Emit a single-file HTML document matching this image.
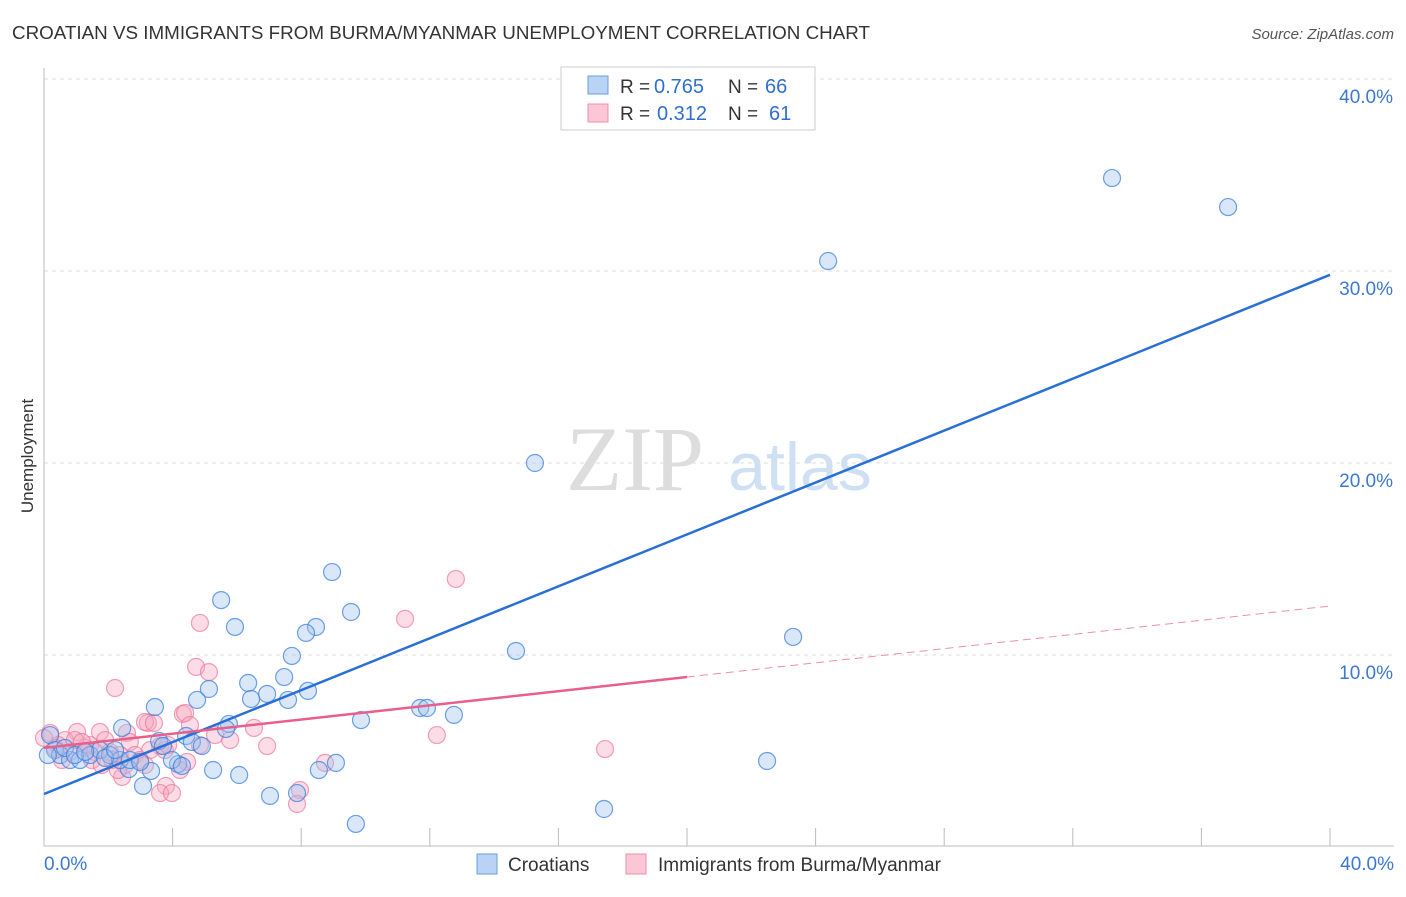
<!DOCTYPE html>
<html><head><meta charset="utf-8"><style>
body{margin:0;background:#fff;font-family:"Liberation Sans",sans-serif}
</style></head><body>
<svg id="chart" width="1406" height="892" viewBox="0 0 1406 892" xmlns="http://www.w3.org/2000/svg" font-family="Liberation Sans, sans-serif">
<text x="12" y="39" font-size="18" fill="#333" textLength="858" lengthAdjust="spacingAndGlyphs">CROATIAN VS IMMIGRANTS FROM BURMA/MYANMAR UNEMPLOYMENT CORRELATION CHART</text>
<text x="1394" y="39" font-size="15" fill="#555" text-anchor="end" font-style="italic">Source: ZipAtlas.com</text>
<text transform="translate(33,456) rotate(-90)" font-size="17" fill="#333" text-anchor="middle">Unemployment</text>
<g>
<text x="635" y="490" font-size="92" fill="#ddd" font-family="Liberation Serif, serif" text-anchor="middle">ZIP</text>
<text x="800" y="490" font-size="68" fill="#cfe0f5" text-anchor="middle">atlas</text>
</g>
<g id="grid"></g><g id="axes"></g><g id="pts"></g><g id="lines"></g>
<g>
<rect x="561" y="67" width="254" height="63" fill="#fff" stroke="#ccc"/>
<rect x="588" y="76" width="20" height="18" fill="#b9d3f5" stroke="#6a9de0"/>
<rect x="588" y="104" width="20" height="18" fill="#fbc7d6" stroke="#ee8fab"/>
<text x="620" y="93" font-size="19" fill="#333">R =</text>
<text x="654" y="93" font-size="20" fill="#2f6fd0">0.765</text>
<text x="728" y="93" font-size="19" fill="#333">N =</text>
<text x="765" y="93" font-size="20" fill="#2f6fd0">66</text>
<text x="620" y="120" font-size="19" fill="#333">R =</text>
<text x="657" y="120" font-size="20" fill="#2f6fd0">0.312</text>
<text x="728" y="120" font-size="19" fill="#333">N =</text>
<text x="769" y="120" font-size="20" fill="#2f6fd0">61</text>
</g>
<g>
<rect x="477" y="854" width="20" height="20" fill="#b9d3f5" stroke="#6a9de0"/>
<text x="508" y="871" font-size="19" fill="#333">Croatians</text>
<rect x="626" y="854" width="20" height="20" fill="#fbc7d6" stroke="#ee8fab"/>
<text x="658" y="871" font-size="19" fill="#333">Immigrants from Burma/Myanmar</text>
</g>
</svg>
<script>
const yTicks=[10,20,30,40];
const yTickLabels=["10.0%","20.0%","30.0%","40.0%"];
const xTickLabels=["0.0%","40.0%"];
const blueX=[33.22,36.83,24.39,15.27,8.96,5.51,9.55,5.94,8.46,8.15,23.30,14.68,7.71,5.13,6.35,7.47,6.94,6.44,8.21,7.59,4.76,3.45,11.70,11.91,12.75,9.86,5.75,5.66,2.43,4.42,3.58,4.60,4.91,3.70,22.49,9.08,8.55,5.26,6.07,4.17,2.64,3.33,3.08,7.03,7.87,9.70,17.42,0.19,0.34,0.50,0.81,1.12,1.43,1.74,2.05,2.36,2.67,2.99,0.65,0.96,0.12,1.28,1.90,2.21,3.98,4.29];
const blueY=[34.84,33.33,30.52,20.0,14.32,12.86,12.24,11.46,11.46,11.15,10.94,10.21,9.95,8.23,8.54,8.85,7.97,7.71,8.13,7.66,7.66,7.29,7.24,7.24,6.88,6.61,6.41,6.15,6.20,5.78,5.52,5.47,5.26,5.26,4.48,4.38,4.01,4.01,3.75,4.32,4.06,3.96,3.18,2.66,2.81,1.20,1.98,5.83,5.05,4.79,4.53,4.53,4.79,5.05,4.79,4.53,4.53,4.43,5.16,4.79,4.79,4.95,4.64,5.05,4.53,4.22];
const pinkX=[12.81,11.23,4.85,2.21,4.73,5.13,4.32,3.23,3.14,4.39,6.53,2.58,1.74,1.03,0.19,12.22,6.94,17.45,3.61,2.67,1.90,1.43,0.65,0.44,0.81,1.28,1.59,2.05,2.36,2.83,3.30,3.76,4.45,4.23,7.96,7.87,3.79,3.61,3.98,2.43,8.74,2.99,0.56,0.34,0.96,1.18,1.49,1.80,2.12,2.52,3.14,0.0,3.86,4.85,5.32,5.79,2.30,4.54,3.42];
const pinkY=[13.96,11.88,11.67,8.28,9.38,9.11,6.93,6.46,6.51,6.98,6.20,5.94,5.99,5.99,5.94,5.83,5.26,5.10,5.26,5.47,5.57,5.31,5.57,5.31,4.95,5.16,4.95,4.95,4.79,4.79,5.05,5.05,4.43,4.01,2.97,2.24,3.18,2.81,2.81,3.65,4.38,4.53,4.53,5.16,5.57,5.47,4.53,4.27,4.53,4.27,4.27,5.68,5.31,5.31,5.83,5.57,4.01,6.35,6.46];
const blueFit=[2.76,29.8];
const pinkFit=[5.16,12.55];
const pinkSolidEnd=20;
const NS="http://www.w3.org/2000/svg";
const X=v=>44+v*32.15, Y=v=>847-v*19.2;
function mk(p,t,a){const e=document.createElementNS(NS,t);for(const k in a)e.setAttribute(k,a[k]);p.appendChild(e);return e;}
const grid=document.getElementById('grid'),axes=document.getElementById('axes');
yTicks.forEach((t,i)=>{
 const l=mk(grid,'line',{x1:44,x2:1394,y1:Y(t),y2:Y(t),stroke:'#ddd','stroke-dasharray':'4,4'});
 
 
 const tx=mk(axes,'text',{x:1393,y:Y(t)+24,'font-size':19,fill:'#3b78d0','text-anchor':'end'});
 tx.textContent=yTickLabels[i];
 
 
});
const ax=mk(axes,'line',{x1:44,x2:1394,y1:846,y2:846,stroke:'#bbb'});


const ay=mk(axes,'line',{x1:44,x2:44,y1:68,y2:846,stroke:'#bbb'});


for(let i=1;i<=10;i++){const t=mk(axes,'line',{x1:X(i*4),x2:X(i*4),y1:828,y2:846,stroke:'#bbb'});
 
 }
[[0,'start',44],[40,'end',1394]].forEach((d,i)=>{const t=mk(axes,'text',{x:d[2],y:870,'font-size':19,fill:'#3b78d0','text-anchor':d[1]});t.textContent=xTickLabels[i];
 
 });
const pts=document.getElementById('pts');
pinkX.forEach((x,i)=>{const c=mk(pts,'circle',{cx:X(x),cy:Y(pinkY[i]),r:8.5,fill:'rgba(248,170,195,0.4)',stroke:'rgba(236,120,155,0.7)','stroke-width':1.2});
 
 });
blueX.forEach((x,i)=>{const c=mk(pts,'circle',{cx:X(x),cy:Y(blueY[i]),r:8.5,fill:'rgba(160,196,240,0.4)',stroke:'rgba(60,130,220,0.75)','stroke-width':1.2});
 
 });
const lines=document.getElementById('lines');
const bl=mk(lines,'line',{x1:X(0),y1:Y(blueFit[0]),x2:X(40),y2:Y(blueFit[1]),stroke:'#2a6fd6','stroke-width':2.5});


const pm=pinkFit[0]+(pinkFit[1]-pinkFit[0])*pinkSolidEnd/40;
const pl=mk(lines,'line',{x1:X(0),y1:Y(pinkFit[0]),x2:X(pinkSolidEnd),y2:Y(pm),stroke:'#e8608a','stroke-width':2.5});


const pd=mk(lines,'line',{x1:X(pinkSolidEnd),y1:Y(pm),x2:X(40),y2:Y(pinkFit[1]),stroke:'#e8608a','stroke-width':1,'stroke-dasharray':'8,5','opacity':0.7});


</script>
</body></html>
